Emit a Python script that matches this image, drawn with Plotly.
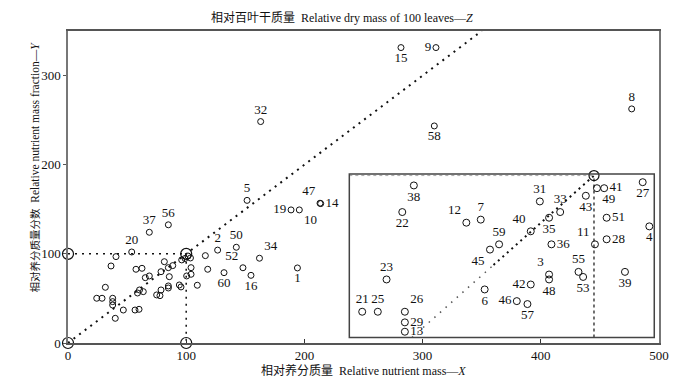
import plotly.graph_objects as go

# ---------------- data ----------------
# main panel, labelled points (X, Y)
main_labels = ["32", "15", "9", "8", "58", "5", "19", "10", "47", "14",
               "37", "56", "20", "2", "50", "34", "52", "60", "16", "1"]
main_x = [163.0, 281.7, 311.3, 476.9, 309.9, 151.5, 188.7, 195.7, 213.2, 213.8,
          68.8, 84.9, 53.9, 126.6, 142.4, 162.0, 148.0, 132.0, 154.8, 194.1]
main_y = [248.4, 331.4, 331.4, 262.6, 243.5, 160.0, 149.3, 149.3, 156.8, 156.4,
          124.2, 132.6, 102.1, 104.2, 107.4, 95.1, 84.4, 78.9, 75.9, 84.2]

# main panel, unlabelled points
cluster_x = [40.6, 36.4, 57.5, 62.6, 81.5, 78.7, 84.9, 88.6, 85.7, 65.4,
             68.8, 96.2, 101.5, 103.6, 99.0, 104.1, 104.1, 100.4, 116.2, 118.2,
             109.4, 94.2, 95.6, 84.9, 84.9, 78.7, 75.0, 77.8, 63.7, 58.8,
             60.5, 31.6, 24.3, 28.8, 37.8, 37.8, 37.8, 46.8, 56.7, 60.1, 40.0]
cluster_y = [96.9, 86.4, 82.7, 83.8, 91.2, 80.0, 84.5, 86.8, 74.4, 73.3,
             75.2, 93.2, 97.6, 95.4, 94.8, 84.5, 77.1, 75.2, 98.0, 82.7,
             64.8, 65.1, 62.9, 64.0, 61.7, 59.5, 53.9, 53.1, 57.6, 56.1,
             59.5, 62.5, 50.2, 50.2, 50.2, 46.4, 42.6, 37.0, 37.0, 37.8, 27.7]

# inset panel, labelled points (X, inset ordinate)
inset_labels = ["38", "22", "12", "7", "31", "33", "43", "49", "41", "27",
                "51", "28", "4", "11", "36", "40", "35", "59", "45", "23",
                "3", "48", "42", "55", "53", "39", "6", "46", "57", "21",
                "25", "26", "29", "13"]
inset_x = [292.6, 282.8, 337.0, 349.2, 399.2, 416.4, 438.1, 447.5, 453.6, 486.2,
           455.7, 455.7, 491.8, 445.8, 409.0, 391.5, 407.0, 364.7, 357.0, 269.5,
           407.0, 407.0, 391.5, 431.9, 435.8, 471.2, 352.5, 379.7, 388.7, 248.9,
           262.1, 285.0, 285.0, 285.0]
inset_y = [435.6, 410.3, 400.2, 403.1, 420.4, 410.3, 425.8, 433.0, 433.0, 438.7,
           404.9, 384.4, 396.7, 379.6, 379.6, 392.0, 404.9, 379.6, 374.6, 346.2,
           350.9, 346.2, 341.4, 353.4, 348.6, 353.4, 336.7, 325.6, 322.8, 315.5,
           315.5, 315.5, 305.4, 296.5]

# reference points
ref_x = [0, 0, 100, 100]
ref_y = [0, 100, 0, 100]
inset_ref = 445
inset_low = 291

x_ticks = [0, 100, 200, 300, 400, 500]
y_ticks = [0, 100, 200, 300]

# label placement (style only)
main_pos = ["top center", "bottom center", "middle left", "top center", "bottom center",
            "top center", "middle left", "bottom right", "top left", "middle right",
            "top center", "top center", "top center", "top center", "top center",
            "top right", "top left", "bottom center", "bottom center", "bottom center"]
inset_pos = ["bottom center", "bottom center", "top left", "top center", "top center",
             "top center", "bottom center", "bottom right", "middle right", "bottom center",
             "middle right", "middle right", "bottom center", "top left", "middle right",
             "top left", "bottom center", "top center", "bottom left", "top center",
             "top left", "bottom center", "middle left", "top center", "bottom center",
             "bottom center", "bottom center", "middle left", "bottom center", "top center",
             "top center", "top right", "middle right", "middle right"]

FONT = "Liberation Serif, 'Noto Sans CJK SC', serif"
BLACK = "#111"

fig = go.Figure()

# main diagonal y = x
fig.add_trace(go.Scatter(x=[0, 350], y=[0, 350], mode="lines",
                         line=dict(color=BLACK, width=2, dash="2px,5px"),
                         hoverinfo="skip", showlegend=False))
# reference guides
fig.add_trace(go.Scatter(x=[0, 100, 100], y=[100, 100, 0], mode="lines",
                         line=dict(color=BLACK, width=1.5, dash="2px,5px"),
                         hoverinfo="skip", showlegend=False))

# unlabelled points
fig.add_trace(go.Scatter(x=cluster_x, y=cluster_y, mode="markers",
                         marker=dict(symbol="circle-open", size=6, color=BLACK,
                                     line=dict(width=1, color=BLACK)),
                         showlegend=False))
# labelled main points
fig.add_trace(go.Scatter(x=main_x, y=main_y, mode="markers+text", text=main_labels,
                         textposition=main_pos,
                         textfont=dict(family=FONT, size=13, color=BLACK),
                         marker=dict(symbol="circle-open", size=6, color=BLACK,
                                     line=dict(width=1, color=BLACK)),
                         showlegend=False))
# reference circles
fig.add_trace(go.Scatter(x=ref_x, y=ref_y, mode="markers",
                         marker=dict(symbol="circle-open", size=11, color=BLACK,
                                     line=dict(width=1.2, color=BLACK)),
                         cliponaxis=False, showlegend=False))

# ---- inset (shares X axis, own ordinate) ----
split = 360
fig.add_trace(go.Scatter(x=[inset_low, split], y=[inset_low, split], xaxis="x", yaxis="y2",
                         mode="lines", line=dict(color="#555", width=1.5, dash="1.5px,6px"),
                         hoverinfo="skip", showlegend=False))
fig.add_trace(go.Scatter(x=[split, inset_ref], y=[split, inset_ref], xaxis="x", yaxis="y2",
                         mode="lines", line=dict(color=BLACK, width=2, dash="2px,4px"),
                         hoverinfo="skip", showlegend=False))
fig.add_trace(go.Scatter(x=[inset_ref, inset_ref], y=[inset_low, inset_ref], xaxis="x", yaxis="y2",
                         mode="lines", line=dict(color=BLACK, width=1.2, dash="3px,3px"),
                         hoverinfo="skip", showlegend=False))
fig.add_trace(go.Scatter(x=[238, inset_ref], y=[inset_ref, inset_ref], xaxis="x", yaxis="y2",
                         mode="lines", line=dict(color="#aaa", width=1, dash="3px,3px"),
                         hoverinfo="skip", showlegend=False))
fig.add_trace(go.Scatter(x=inset_x, y=inset_y, xaxis="x", yaxis="y2",
                         mode="markers+text", text=inset_labels, textposition=inset_pos,
                         textfont=dict(family=FONT, size=13, color=BLACK),
                         marker=dict(symbol="circle-open", size=7, color=BLACK,
                                     line=dict(width=1, color=BLACK)),
                         showlegend=False))
fig.add_trace(go.Scatter(x=[inset_ref], y=[inset_ref], xaxis="x", yaxis="y2", mode="markers",
                         marker=dict(symbol="circle-open", size=10, color=BLACK,
                                     line=dict(width=1.2, color=BLACK)),
                         cliponaxis=False, showlegend=False))

# inset frame
fig.add_shape(type="rect", xref="x", yref="y2 domain", x0=238, x1=496, y0=0, y1=1,
              line=dict(color="#444", width=1.5), fillcolor="rgba(0,0,0,0)", layer="above")

fig.update_layout(
    width=674, height=385,
    margin=dict(l=68, r=15, t=31, b=42, autoexpand=False),
    paper_bgcolor="white", plot_bgcolor="rgba(0,0,0,0)",
    font=dict(family=FONT, size=13, color=BLACK),
    xaxis=dict(range=[0, 500], tickvals=x_ticks, ticks="inside", ticklen=4,
               tickcolor="#333", showgrid=False, zeroline=False,
               showline=True, mirror=True, linecolor="#555", linewidth=1.5,
               tickfont=dict(family=FONT, size=13)),
    yaxis=dict(range=[0, 350], tickvals=y_ticks, ticks="outside", ticklen=3,
               tickcolor="#555", showgrid=False, zeroline=False,
               showline=True, mirror=True, linecolor="#777", linewidth=1.5,
               tickfont=dict(family=FONT, size=13)),
    yaxis2=dict(domain=[0.0176, 0.5417], range=[inset_low, 446.5], anchor="x",
                showticklabels=False, ticks="", showgrid=False, zeroline=False,
                showline=False),
)

fig.add_annotation(xref="paper", yref="paper", x=0.463, y=1 + 13 / 312, yanchor="middle",
                   showarrow=False, font=dict(family=FONT, size=12),
                   text="相对百叶干质量  Relative dry mass of 100 leaves—<i>Z</i>")
fig.add_annotation(xref="paper", yref="paper", x=0.5, y=-27 / 312, yanchor="middle",
                   showarrow=False, font=dict(family=FONT, size=12),
                   text="相对养分质量  Relative nutrient mass—<i>X</i>")
fig.add_annotation(xref="paper", yref="paper", x=-34 / 591, y=0.5625, xanchor="center",
                   yanchor="middle", textangle=-90, showarrow=False,
                   font=dict(family=FONT, size=11.5),
                   text="<span style='font-size:10.5px'>相对养分质量分数</span>  "
                        "Relative nutrient mass fraction—<i>Y</i>")

fig.write_html("out.html", post_script="document.body.style.margin='0';",
               config={"displayModeBar": False})
